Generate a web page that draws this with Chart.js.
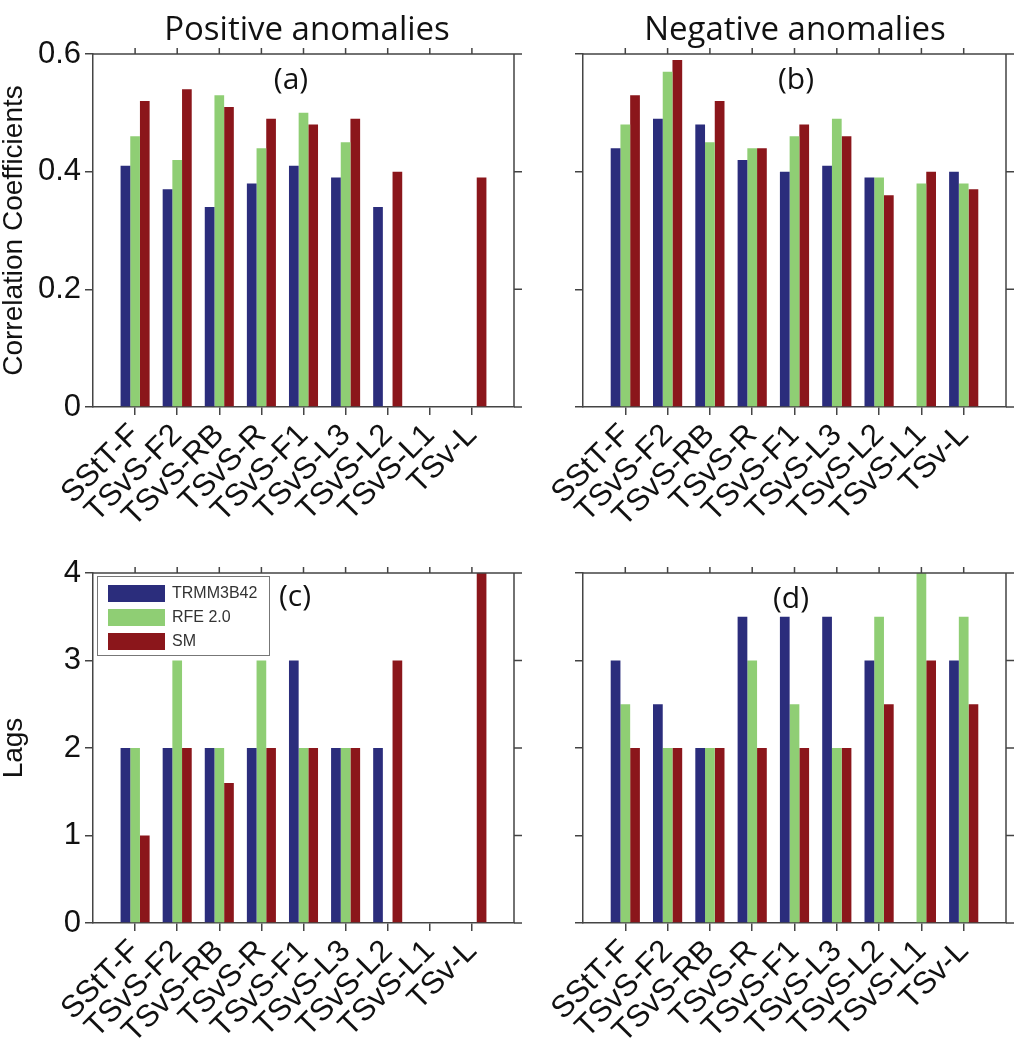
<!DOCTYPE html>
<html>
<head>
<meta charset="utf-8">
<script src="https://cdn.jsdelivr.net/npm/chart.js@4.4.0/dist/chart.umd.min.js"></script>
<style>
  body { margin: 0; background: #fff; width: 1024px; height: 1049px; position: relative; overflow: hidden; }
  canvas { position: absolute; }
  .title { position: absolute; font-family: "Open Sans", sans-serif; font-size: 33px; color: #111;
           transform: translate(-50%, -50%); white-space: nowrap; line-height: 1; }
  .tag { position: absolute; font-family: "Open Sans", sans-serif; font-size: 30px; color: #111;
         transform: translate(-50%, -50%); line-height: 1; }
  #legend { position: absolute; left: 97px; top: 576px; width: 173px; height: 80px; box-sizing: border-box;
            border: 1.5px solid #777; background: #fff; font-family: "Liberation Sans", Arial, sans-serif; }
  .row { position: absolute; left: 10px; height: 18px; display: flex; align-items: center; }
  .sw { width: 57px; height: 17px; margin-right: 7px; }
  .lab { font-size: 16px; color: #333; }
</style>
</head>
<body>
<canvas id="chartA" width="530" height="540" style="left:0;top:0"></canvas>
<canvas id="chartB" width="494" height="540" style="left:530px;top:0"></canvas>
<canvas id="chartC" width="530" height="509" style="left:0;top:540px"></canvas>
<canvas id="chartD" width="494" height="509" style="left:530px;top:540px"></canvas>

<div class="title" style="left:307px;top:27px">Positive anomalies</div>
<div class="title" style="left:795px;top:27px">Negative anomalies</div>
<div class="tag" style="left:291px;top:78px">(a)</div>
<div class="tag" style="left:796px;top:78px">(b)</div>
<div class="tag" style="left:295px;top:595px">(c)</div>
<div class="tag" style="left:791px;top:597px">(d)</div>
<div id="legend"></div>

<script>
  const categories = ['SStT-F', 'TSvS-F2', 'TSvS-RB', 'TSvS-R', 'TSvS-F1', 'TSvS-L3', 'TSvS-L2', 'TSvS-L1', 'TSv-L'];
  const seriesNames = ['TRMM3B42', 'RFE 2.0', 'SM'];
  const seriesColors = ['#2b2d7c', '#8fce74', '#8b161b'];

  // correlation coefficients
  const posCorrTRMM = [0.41, 0.37, 0.34, 0.38, 0.41, 0.39, 0.34, null, null];
  const posCorrRFE  = [0.46, 0.42, 0.53, 0.44, 0.50, 0.45, null, null, null];
  const posCorrSM   = [0.52, 0.54, 0.51, 0.49, 0.48, 0.49, 0.40, null, 0.39];
  const negCorrTRMM = [0.44, 0.49, 0.48, 0.42, 0.40, 0.41, 0.39, null, 0.40];
  const negCorrRFE  = [0.48, 0.57, 0.45, 0.44, 0.46, 0.49, 0.39, 0.38, 0.38];
  const negCorrSM   = [0.53, 0.59, 0.52, 0.44, 0.48, 0.46, 0.36, 0.40, 0.37];

  // lags
  const posLagTRMM = [2, 2, 2, 2, 3, 2, 2, null, null];
  const posLagRFE  = [2, 3, 2, 3, 2, 2, null, null, null];
  const posLagSM   = [1, 2, 1.6, 2, 2, 2, 3, null, 4];
  const negLagTRMM = [3, 2.5, 2, 3.5, 3.5, 3.5, 3, null, 3];
  const negLagRFE  = [2.5, 2, 2, 3, 2.5, 2, 3.5, 4, 3.5];
  const negLagSM   = [2, 2, 2, 2, 2, 2, 2.5, 3, 2.5];

  const corrTicks = [0, 0.2, 0.4, 0.6];
  const lagTicks = [0, 1, 2, 3, 4];

  const axisColor = '#444';
  const tickFont = { family: '"Liberation Sans", Arial, sans-serif', size: 31 };

  // box on top/right with mirrored ticks, like the matlab axes
  const framePlugin = {
    id: 'frame',
    afterDraw(chart) {
      const { ctx, chartArea: a, scales: { x, y } } = chart;
      ctx.save();
      ctx.strokeStyle = axisColor;
      ctx.lineWidth = 1.5;
      ctx.beginPath();
      ctx.moveTo(a.left, a.top);
      ctx.lineTo(a.right, a.top);
      ctx.lineTo(a.right, a.bottom);
      x.ticks.forEach(t => {
        const px = x.getPixelForValue(t.value);
        ctx.moveTo(px, a.top);
        ctx.lineTo(px, a.top - 6);
      });
      y.ticks.forEach(t => {
        const py = y.getPixelForValue(t.value);
        ctx.moveTo(a.right, py);
        ctx.lineTo(a.right + 8, py);
      });
      ctx.stroke();
      ctx.restore();
    }
  };

  function makePanel(id, series, yTicks, showYLabels, yTitle, yWidth, padTop, padRight, xHeight) {
    const datasets = series.map((vals, k) => ({
      label: seriesNames[k],
      data: vals.map((v, i) => ({ x: i + 1, y: v })),
      backgroundColor: seriesColors[k],
      borderWidth: 0,
      categoryPercentage: 0.69,
      barPercentage: 1.0
    }));

    new Chart(document.getElementById(id), {
      type: 'bar',
      data: { datasets },
      options: {
        responsive: false,
        animation: false,
        layout: { padding: { top: padTop, right: padRight, left: 0, bottom: 0 } },
        plugins: { legend: { display: false }, tooltip: { enabled: false } },
        scales: {
          x: {
            type: 'linear',
            min: 0,
            max: categories.length + 1,
            offset: false,
            afterBuildTicks: s => { s.ticks = categories.map((c, i) => ({ value: i + 1 })); },
            afterFit: s => { s.height = xHeight; },
            ticks: {
              autoSkip: false,
              minRotation: 45,
              maxRotation: 45,
              color: '#111',
              font: tickFont,
              padding: 2,
              callback: v => categories[v - 1]
            },
            grid: { display: true, offset: false, drawOnChartArea: false, drawTicks: true, tickLength: 8, color: axisColor, lineWidth: 1.5 },
            border: { display: true, color: axisColor, width: 1.5 }
          },
          y: {
            min: yTicks[0],
            max: yTicks[yTicks.length - 1],
            afterBuildTicks: s => { s.ticks = yTicks.map(v => ({ value: v })); },
            afterFit: s => { s.width = yWidth; },
            ticks: { display: showYLabels, color: '#111', font: tickFont, padding: 4, callback: v => String(v) },
            grid: { display: true, drawOnChartArea: false, drawTicks: true, tickLength: 8, color: axisColor, lineWidth: 1.5 },
            border: { display: true, color: axisColor, width: 1.5 },
            title: {
              display: !!yTitle,
              text: yTitle,
              color: '#111',
              font: { family: '"Liberation Sans", Arial, sans-serif', size: 28, lineHeight: 1 },
              padding: { top: 0, bottom: 0 }
            }
          }
        }
      },
      plugins: [framePlugin]
    });
  }

  makePanel('chartA', [posCorrTRMM, posCorrRFE, posCorrSM], corrTicks, true, 'Correlation Coefficients', 93, 54, 16, 133);
  makePanel('chartB', [negCorrTRMM, negCorrRFE, negCorrSM], corrTicks, false, '', 53, 54, 18, 133);
  makePanel('chartC', [posLagTRMM, posLagRFE, posLagSM], lagTicks, true, 'Lags', 93, 33, 16, 126);
  makePanel('chartD', [negLagTRMM, negLagRFE, negLagSM], lagTicks, false, '', 53, 33, 18, 126);

  // legend box inside panel (c)
  const legend = document.getElementById('legend');
  seriesNames.forEach((name, k) => {
    const row = document.createElement('div');
    row.className = 'row';
    row.style.top = (7 + k * 24) + 'px';
    row.innerHTML = '<div class="sw" style="background:' + seriesColors[k] + '"></div><span class="lab">' + name + '</span>';
    legend.appendChild(row);
  });
</script>
</body>
</html>
